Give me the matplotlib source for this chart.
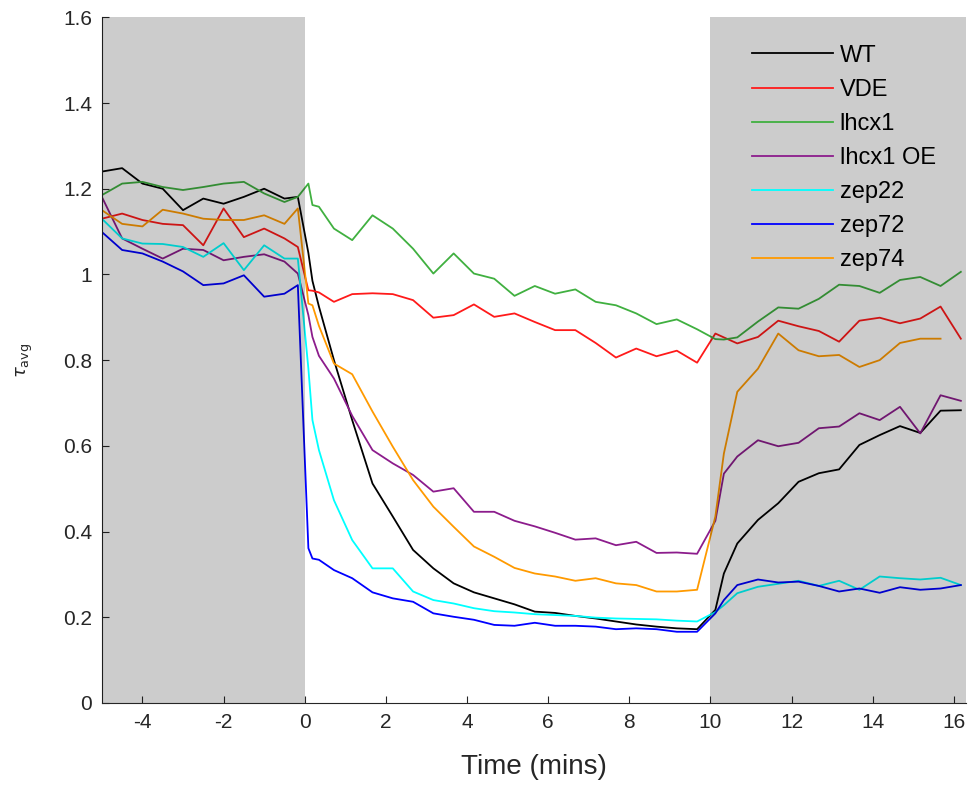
import numpy as np
import matplotlib
matplotlib.use("Agg")
import matplotlib.pyplot as plt

plt.rcParams['font.family'] = ['Liberation Sans', 'DejaVu Sans']
plt.rcParams['axes.unicode_minus'] = False

# time points (minutes)
time = [-5.0, -4.5, -4.0, -3.5, -3.0, -2.5, -2.0, -1.5, -1.0, -0.5, -0.17,
        0.09, 0.19, 0.35, 0.72, 1.17, 1.67, 2.17, 2.67, 3.17, 3.67, 4.17,
        4.67, 5.17, 5.67, 6.17, 6.67, 7.17, 7.67, 8.17, 8.67, 9.17, 9.67,
        10.12, 10.33, 10.66, 11.17, 11.67, 12.17, 12.67, 13.17, 13.67, 14.17,
        14.67, 15.17, 15.67, 16.17]

wt = [1.240, 1.248, 1.212, 1.200, 1.150, 1.177, 1.165, 1.181, 1.200, 1.177, 1.181,
      1.050, 0.985, 0.925, 0.800, 0.660, 0.512, 0.435, 0.357, 0.314, 0.279, 0.258,
      0.244, 0.230, 0.213, 0.210, 0.203, 0.197, 0.190, 0.183, 0.178, 0.174, 0.172,
      0.217, 0.302, 0.372, 0.427, 0.466, 0.516, 0.536, 0.545, 0.602, 0.625,
      0.646, 0.630, 0.682, 0.683]

vde = [1.130, 1.142, 1.127, 1.118, 1.115, 1.068, 1.154, 1.087, 1.107, 1.084, 1.064,
       0.963, 0.962, 0.958, 0.936, 0.954, 0.956, 0.954, 0.940, 0.899, 0.905, 0.930,
       0.901, 0.909, 0.889, 0.870, 0.870, 0.840, 0.806, 0.827, 0.809, 0.822, 0.794,
       0.862, 0.853, 0.839, 0.854, 0.892, 0.879, 0.868, 0.843, 0.892, 0.899,
       0.886, 0.897, 0.925, 0.850]

lhcx1 = [1.185, 1.212, 1.216, 1.204, 1.197, 1.204, 1.212, 1.216, 1.189, 1.169, 1.181,
         1.212, 1.162, 1.158, 1.107, 1.080, 1.138, 1.107, 1.060, 1.002, 1.049, 1.002,
         0.990, 0.950, 0.973, 0.955, 0.965, 0.936, 0.928, 0.909, 0.884, 0.895, 0.872,
         0.849, 0.848, 0.853, 0.890, 0.923, 0.920, 0.943, 0.976, 0.973, 0.957,
         0.987, 0.994, 0.973, 1.006]

lhcx1_oe = [1.181, 1.084, 1.060, 1.037, 1.060, 1.057, 1.033, 1.041, 1.047, 1.030, 1.002,
            0.905, 0.854, 0.810, 0.757, 0.670, 0.590, 0.559, 0.532, 0.493, 0.501, 0.446,
            0.446, 0.425, 0.412, 0.397, 0.381, 0.384, 0.368, 0.376, 0.350, 0.351, 0.348,
            0.425, 0.535, 0.575, 0.613, 0.599, 0.607, 0.641, 0.645, 0.676, 0.660,
            0.691, 0.629, 0.718, 0.705]

zep22 = [1.130, 1.084, 1.072, 1.071, 1.064, 1.041, 1.073, 1.010, 1.068, 1.037, 1.037,
         0.780, 0.660, 0.590, 0.473, 0.380, 0.314, 0.314, 0.260, 0.240, 0.232, 0.221,
         0.214, 0.211, 0.207, 0.205, 0.203, 0.199, 0.197, 0.196, 0.195, 0.192, 0.190,
         0.212, 0.228, 0.256, 0.271, 0.278, 0.285, 0.273, 0.285, 0.264, 0.295,
         0.291, 0.288, 0.292, 0.275]

zep72 = [1.099, 1.057, 1.049, 1.030, 1.007, 0.975, 0.979, 0.998, 0.948, 0.955, 0.975,
         0.361, 0.337, 0.334, 0.310, 0.291, 0.258, 0.244, 0.236, 0.209, 0.201, 0.194,
         0.182, 0.180, 0.187, 0.180, 0.180, 0.178, 0.172, 0.174, 0.172, 0.166, 0.166,
         0.209, 0.240, 0.275, 0.288, 0.281, 0.283, 0.273, 0.260, 0.267, 0.257,
         0.270, 0.264, 0.267, 0.275]

zep74 = [1.150, 1.118, 1.112, 1.151, 1.142, 1.130, 1.127, 1.127, 1.138, 1.118, 1.154,
         0.932, 0.928, 0.880, 0.792, 0.767, 0.680, 0.598, 0.520, 0.458, 0.411, 0.365,
         0.341, 0.315, 0.302, 0.295, 0.285, 0.291, 0.279, 0.275, 0.260, 0.260, 0.264,
         0.435, 0.582, 0.726, 0.780, 0.862, 0.823, 0.809, 0.812, 0.784, 0.800,
         0.840, 0.850, 0.850, np.nan]

labels = ['WT', 'VDE', 'lhcx1', 'lhcx1 OE', 'zep22', 'zep72', 'zep74']
series = [wt, vde, lhcx1, lhcx1_oe, zep22, zep72, zep74]
colors = ['#000000', '#FF1A1A', '#40B040', '#8C1C8C', '#00FFFF', '#0000FF', '#FF9A00']

dark_periods = [(-5.0, 0.0), (10.0, 16.3)]

fig = plt.figure(figsize=(9.7, 7.88), dpi=100)
ax = fig.add_axes([0.105, 0.108, 0.891, 0.870])

lines = []
for y, c, lab in zip(series, colors, labels):
    ln, = ax.plot(time, y, color=c, lw=1.3, label=lab, zorder=2)
    lines.append(ln)

for a, b in dark_periods:
    ax.axvspan(a, b, color='black', alpha=0.2, lw=0, zorder=3)

ax.set_xlim(-5, 16.3)
ax.set_ylim(0, 1.6)
ax.set_xticks([-4, -2, 0, 2, 4, 6, 8, 10, 12, 14, 16])
ax.set_yticks([0, 0.2, 0.4, 0.6, 0.8, 1.0, 1.2, 1.4, 1.6])
ax.set_yticklabels(['0', '0.2', '0.4', '0.6', '0.8', '1', '1.2', '1.4', '1.6'])

axc = '#262626'
for s in ['top', 'right']:
    ax.spines[s].set_visible(False)
for s in ['left', 'bottom']:
    ax.spines[s].set_color(axc)
    ax.spines[s].set_linewidth(0.8)
ax.tick_params(direction='in', length=5, width=0.8, colors=axc,
               labelsize=15, pad=7)

ax.set_xlabel('Time (mins)', fontsize=20, color=axc, labelpad=16)
ax.set_ylabel(r'$\tau_{\mathrm{avg}}$', fontsize=13, color=axc, labelpad=20)

leg = ax.legend(handles=lines, loc='upper left', bbox_to_anchor=(0.752, 0.960),
                frameon=False, fontsize=17, handlelength=3.43, handletextpad=0.3,
                labelspacing=0.51, borderpad=0, borderaxespad=0)
leg.set_zorder(5)

fig.savefig('out.png', dpi=100)
